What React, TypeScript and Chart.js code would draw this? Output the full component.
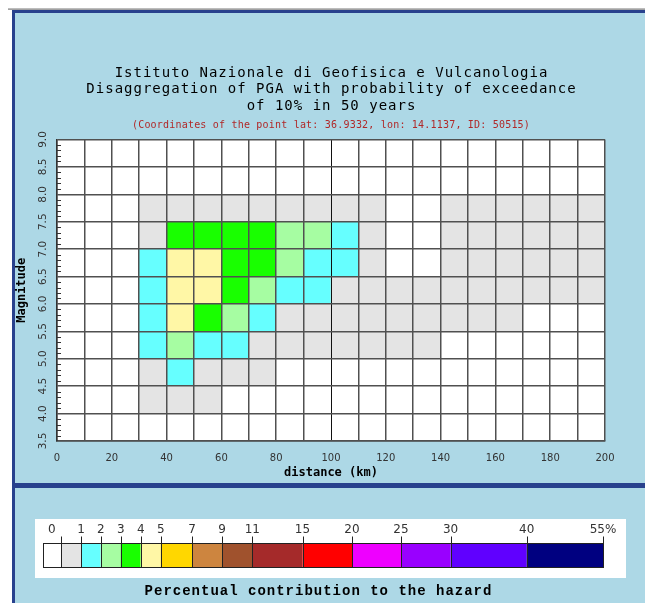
import React, { useEffect, useRef } from 'react';
import { Chart, registerables } from 'chart.js';

Chart.register(...registerables);

// distance bins (lower edge, km) – each bin is 10 km wide
const distanceBins = [0, 10, 20, 30, 40, 50, 60, 70, 80, 90, 100, 110, 120, 130, 140, 150, 160, 170, 180, 190];
const distanceStep = 10;
// magnitude bins (lower edge) – each bin is 0.5 wide
const magnitudeBins = [3.5, 4.0, 4.5, 5.0, 5.5, 6.0, 6.5, 7.0, 7.5, 8.0, 8.5];
const magnitudeStep = 0.5;

const xTickLabels = ['0', '20', '40', '60', '80', '100', '120', '140', '160', '180', '200'];
const yTickLabels = ['3.5', '4.0', '4.5', '5.0', '5.5', '6.0', '6.5', '7.0', '7.5', '8.0', '8.5', '9.0'];

// percentual contribution to the hazard, one array per magnitude bin (over distance bins)
const contribM35 = [0, 0, 0, 0, 0, 0, 0, 0, 0, 0, 0, 0, 0, 0, 0, 0, 0, 0, 0, 0];
const contribM40 = [0, 0, 0, 0.3, 0.4, 0.2, 0, 0, 0, 0, 0, 0, 0, 0, 0, 0, 0, 0, 0, 0];
const contribM45 = [0, 0, 0, 0.5, 1.2, 0.7, 0.4, 0.2, 0, 0, 0, 0, 0, 0, 0, 0, 0, 0, 0, 0];
const contribM50 = [0, 0, 0, 1.6, 2.3, 1.5, 1.1, 0.8, 0.6, 0.4, 0.3, 0.2, 0.15, 0.1, 0, 0, 0, 0, 0, 0];
const contribM55 = [0, 0, 0, 1.8, 4.2, 3.2, 2.1, 1.2, 0.8, 0.6, 0.5, 0.4, 0.3, 0.2, 0.15, 0.1, 0.1, 0, 0, 0];
const contribM60 = [0, 0, 0, 1.7, 4.6, 4.3, 3.5, 2.4, 1.5, 1.1, 0.8, 0.6, 0.5, 0.4, 0.3, 0.25, 0.2, 0.15, 0.12, 0.1];
const contribM65 = [0, 0, 0, 1.3, 4.4, 4.1, 3.8, 3.3, 2.2, 1.5, 1.1, 0.7, 0, 0, 0.4, 0.3, 0.3, 0.2, 0.2, 0.15];
const contribM70 = [0, 0, 0, 0.9, 3.4, 3.6, 3.9, 3.2, 2.6, 2.1, 1.3, 0.8, 0, 0, 0.4, 0.35, 0.3, 0.25, 0.2, 0.2];
const contribM75 = [0, 0, 0, 0.3, 0.6, 0.7, 0.8, 0.7, 0.6, 0.5, 0.4, 0.3, 0, 0, 0.1, 0.1, 0.1, 0.1, 0.1, 0.1];
const contribM80 = [0, 0, 0, 0, 0, 0, 0, 0, 0, 0, 0, 0, 0, 0, 0, 0, 0, 0, 0, 0];
const contribM85 = [0, 0, 0, 0, 0, 0, 0, 0, 0, 0, 0, 0, 0, 0, 0, 0, 0, 0, 0, 0];
const contributions = [contribM35, contribM40, contribM45, contribM50, contribM55, contribM60, contribM65, contribM70, contribM75, contribM80, contribM85];

// colour scale (upper bound of each class, %)
const legendBounds = [0, 1, 2, 3, 4, 5, 7, 9, 11, 15, 20, 25, 30, 40, 55];
const legendLabels = ['0', '1', '2', '3', '4', '5', '7', '9', '11', '15', '20', '25', '30', '40', '55%'];
const legendColors = ['#ffffff', '#e4e4e4', '#66ffff', '#a6fda2', '#19ff00', '#fff7a6', '#ffd700', '#cd853f', '#a0522d', '#a52a2a', '#ff0000', '#ee00ff', '#9900ff', '#6000ff', '#000080'];

const titleLines = [
  'Istituto Nazionale di Geofisica e Vulcanologia',
  'Disaggregation of PGA with probability of exceedance',
  'of 10% in 50 years',
];
const subtitle = '(Coordinates of the point lat: 36.9332, lon: 14.1137, ID: 50515)';
const xTitle = 'distance (km)';
const yTitle = 'Magnitude';
const legendCaption = 'Percentual contribution to the hazard';

// layout of the colour bar (pixel edges of the classes)
const legendEdges = [42.7, 61, 81, 100.7, 120.7, 140.7, 160.7, 192, 222, 252.3, 302.5, 352, 401, 450.6, 526.7, 603];

function colorFor(v: number): string {
  if (v <= legendBounds[0]) return legendColors[0];
  for (let i = 1; i < legendBounds.length; i++) {
    if (v <= legendBounds[i]) return legendColors[i];
  }
  return legendColors[legendColors.length - 1];
}

const framePlugin = {
  id: 'frame',
  beforeDraw(chart: any) {
    const ctx = chart.ctx as CanvasRenderingContext2D;
    const W = chart.width, H = chart.height;
    ctx.save();
    ctx.fillStyle = '#ffffff';
    ctx.fillRect(0, 0, W, H);
    ctx.fillStyle = '#7a7a7a';
    ctx.fillRect(8, 8.5, W - 8, 1.2);
    ctx.fillStyle = '#add8e6';
    ctx.fillRect(15, 13, W - 15, H - 13);
    ctx.fillStyle = '#28418d';
    ctx.fillRect(12, 10, W - 12, 3);
    ctx.fillRect(12, 10, 3, H - 10);
    ctx.fillRect(12, 483, W - 12, 5);

    // titles
    const cx = (chart.chartArea.left + chart.chartArea.right) / 2;
    ctx.fillStyle = '#000000';
    ctx.textAlign = 'center';
    ctx.textBaseline = 'middle';
    ctx.font = '14px "DejaVu Sans Mono"';
    (ctx as any).letterSpacing = '1px';
    titleLines.forEach((t, i) => ctx.fillText(t, cx + 0.5, 73 + i * 16.5));
    ctx.font = '10px "DejaVu Sans Mono"';
    (ctx as any).letterSpacing = '0.2px';
    ctx.fillStyle = '#b02828';
    ctx.fillText(subtitle, cx, 125.5);
    (ctx as any).letterSpacing = '0px';
    ctx.restore();
  },
  afterDraw(chart: any) {
    const ctx = chart.ctx as CanvasRenderingContext2D;
    const area = chart.chartArea;
    const yScale = chart.scales.y;
    ctx.save();
    // minor ticks inside the plot on the magnitude axis
    ctx.strokeStyle = '#333333';
    ctx.lineWidth = 1;
    magnitudeBins.forEach((m) => {
      for (let k = 1; k < 5; k++) {
        const py = Math.round(yScale.getPixelForValue(m + k * 0.1)) + 0.5;
        ctx.beginPath();
        ctx.moveTo(area.left, py);
        ctx.lineTo(area.left + 4, py);
        ctx.stroke();
      }
    });
    // rotated magnitude tick labels
    ctx.fillStyle = '#333333';
    ctx.font = '10.5px "DejaVu Sans"';
    ctx.textAlign = 'center';
    ctx.textBaseline = 'middle';
    yTickLabels.forEach((lbl) => {
      const py = yScale.getPixelForValue(parseFloat(lbl));
      ctx.save();
      ctx.translate(43, py);
      ctx.rotate(-Math.PI / 2);
      ctx.fillText(lbl, 0, 0);
      ctx.restore();
    });

    // colour legend
    ctx.fillStyle = '#ffffff';
    ctx.fillRect(35, 519, 591, 59);
    const top = 543, h = 24;
    legendColors.forEach((c, i) => {
      ctx.fillStyle = c;
      ctx.fillRect(legendEdges[i], top, legendEdges[i + 1] - legendEdges[i], h);
    });
    ctx.strokeStyle = '#222222';
    ctx.lineWidth = 1;
    legendColors.forEach((c, i) => {
      ctx.strokeRect(Math.round(legendEdges[i]) + 0.5, top + 0.5, Math.round(legendEdges[i + 1]) - Math.round(legendEdges[i]), h);
    });
    for (let i = 1; i < legendEdges.length; i++) {
      const px = Math.round(legendEdges[i]) + 0.5;
      ctx.beginPath();
      ctx.moveTo(px, 536.5);
      ctx.lineTo(px, top);
      ctx.stroke();
    }
    ctx.fillStyle = '#333333';
    ctx.font = '12px "DejaVu Sans"';
    ctx.textAlign = 'center';
    ctx.textBaseline = 'middle';
    legendLabels.forEach((lbl, i) => {
      const px = i === 0 ? (legendEdges[0] + legendEdges[1]) / 2 : legendEdges[i + 1];
      ctx.fillText(lbl, px, 530);
    });
    ctx.fillStyle = '#000000';
    ctx.font = 'bold 14px "Liberation Mono"';
    (ctx as any).letterSpacing = '1px';
    ctx.fillText(legendCaption, 318.5, 591);
    (ctx as any).letterSpacing = '0px';
    ctx.restore();
  },
};

export default function App() {
  const ref = useRef<HTMLCanvasElement>(null);

  useEffect(() => {
    const canvas = ref.current;
    if (!canvas) return;
    const datasets = magnitudeBins.map((m, r) => ({
      label: 'M ' + m.toFixed(1),
      data: distanceBins.map((d) => ({ x: d + distanceStep / 2, y: [m, m + magnitudeStep] })),
      backgroundColor: contributions[r].map(colorFor),
      borderWidth: 0,
      grouped: false,
      barPercentage: 1,
      categoryPercentage: 1,
    }));

    const chart = new Chart(canvas, {
      type: 'bar',
      data: { datasets: datasets as any },
      plugins: [framePlugin],
      options: {
        responsive: false,
        animation: false,
        events: [],
        layout: { padding: { left: 15, top: 139.5, right: 40, bottom: 122 } },
        plugins: { legend: { display: false }, tooltip: { enabled: false } },
        scales: {
          x: {
            type: 'linear',
            min: 0,
            max: 200,
            offset: false,
            afterFit: (s: any) => { s.height = 40; },
            grid: {
              offset: false,
              z: 1,
              drawTicks: false,
              color: (c: any) => (c.tick && c.tick.value === 100 ? '#111111' : '#505050'),
              lineWidth: (c: any) => (c.tick && c.tick.value === 100 ? 1 : 1.5),
            },
            border: { display: true, color: '#333333', width: 1.5, z: 1 },
            ticks: {
              stepSize: 10,
              autoSkip: false,
              maxRotation: 0,
              minRotation: 0,
              padding: 11,
              color: '#333333',
              font: { family: '"DejaVu Sans"', size: 10 },
              callback: (v: any) => (xTickLabels.includes(String(v)) ? String(v) : ''),
            },
            title: {
              display: true,
              text: xTitle,
              color: '#000000',
              font: { family: '"DejaVu Sans Mono"', size: 12, weight: 'bold' },
              padding: { top: 0, bottom: 1 },
            },
          },
          y: {
            type: 'linear',
            min: 3.5,
            max: 9,
            afterFit: (s: any) => { s.width = 42; },
            grid: { z: 1, drawTicks: false, color: '#505050', lineWidth: 1.5 },
            border: { display: true, color: '#333333', width: 1.5, z: 1 },
            ticks: { stepSize: 0.5, display: false },
            title: {
              display: true,
              text: yTitle,
              color: '#000000',
              font: { family: '"DejaVu Sans Mono"', size: 12, weight: 'bold' },
              padding: { top: 0, bottom: 0 },
            },
          },
        },
      } as any,
    });
    return () => chart.destroy();
  }, []);

  return (
    <div style={{ position: 'fixed', left: 0, top: 0, width: 645, height: 603 }}>
      <canvas ref={ref} width={645} height={603} style={{ display: 'block' }} />
    </div>
  );
}
